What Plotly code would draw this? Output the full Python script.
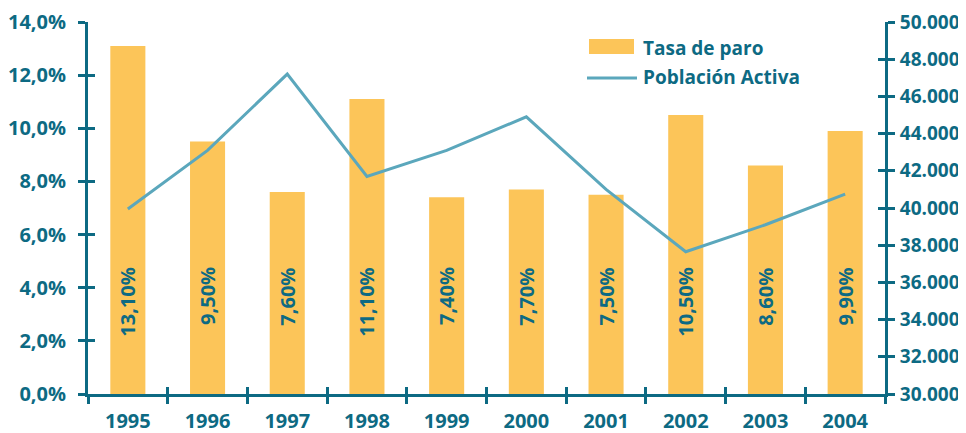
import plotly.graph_objects as go

years = ["1995", "1996", "1997", "1998", "1999", "2000", "2001", "2002", "2003", "2004"]
tasa_paro = [13.1, 9.5, 7.6, 11.1, 7.4, 7.7, 7.5, 10.5, 8.6, 9.9]
poblacion_activa = [39950, 43100, 47200, 41700, 43100, 44900, 41000, 37650, 39100, 40750]
series_names = ["Tasa de paro", "Población Activa"]

TEXT = "#0D6A83"
BAR = "#FCC559"
LINE = "#5BA7BC"
FONT = "Open Sans"

# page has an 8px default body margin: compensate so the figure lands on the window
OFF = 8
W, H = 966 - OFF, 433 - OFF
L, R, T, B = 88 - OFF, 81, 22 - OFF, 39
PW, PH = W - L - R, H - T - B


def px(x):
    return (x - OFF - L) / PW


def py(y):
    return (H - B - (y - OFF)) / PH


fig = go.Figure()
fig.add_trace(go.Bar(x=years, y=tasa_paro, name=series_names[0], marker_color=BAR,
                     marker_line_width=0, xaxis="x", yaxis="y", showlegend=False))
fig.add_trace(go.Scatter(x=years, y=poblacion_activa, name=series_names[1], mode="lines",
                         line=dict(color=LINE, width=3), xaxis="x", yaxis="y2", showlegend=False))
# helper traces so the overlay axes (inner half of the crossing ticks) exist
fig.add_trace(go.Scatter(x=years, y=[None] * len(years), mode="lines", showlegend=False,
                         hoverinfo="skip", xaxis="x2", yaxis="y3"))
fig.add_trace(go.Scatter(x=years, y=[None] * len(years), mode="lines", showlegend=False,
                         hoverinfo="skip", xaxis="x2", yaxis="y4"))

lblfont = dict(family=FONT, size=20, color=TEXT, weight="bold")
for i, v in enumerate(tasa_paro):
    fig.add_annotation(x=i, y=4.84, xref="x", yref="y", text=f"{v:.2f}".replace(".", ",") + "%",
                       textangle=-90, yanchor="top", xanchor="center", showarrow=False,
                       font=lblfont)

# legend (drawn manually to get the wide swatches)
fig.add_shape(type="rect", xref="paper", yref="paper", x0=px(589), x1=px(634), y0=py(54), y1=py(39),
              fillcolor=BAR, line_width=0)
fig.add_shape(type="line", xref="paper", yref="paper", x0=px(587), x1=px(637), y0=py(78), y1=py(78),
              line=dict(color=LINE, width=3))
legfont = dict(family=FONT, size=19, color=TEXT, weight="bold")
fig.add_annotation(x=px(641), y=py(48), xref="paper", yref="paper", text=series_names[0],
                   xanchor="left", yanchor="middle", showarrow=False, font=legfont)
fig.add_annotation(x=px(641), y=py(77), xref="paper", yref="paper", text=series_names[1],
                   xanchor="left", yanchor="middle", showarrow=False, font=legfont)

tickfont = dict(family=FONT, size=20, color=TEXT, weight="bold")
axis_common = dict(showgrid=False, zeroline=False, linecolor=TEXT, linewidth=3,
                   tickcolor=TEXT, tickwidth=3, ticklen=7, automargin=False)
inner_common = dict(showline=False, showticklabels=False, showgrid=False, zeroline=False,
                    tickcolor=TEXT, tickwidth=3, ticklen=7, ticks="inside", automargin=False)

fig.update_layout(
    width=W, height=H,
    margin=dict(l=L, r=R, t=T, b=B),
    paper_bgcolor="white", plot_bgcolor="white",
    separators=",.",
    bargap=0.56,
    showlegend=False,
    xaxis=dict(type="category", categoryarray=years, range=[-0.5, 9.5], tickson="boundaries",
               ticks="outside", showline=True, tickfont=tickfont, ticklabelstandoff=7, **axis_common),
    xaxis2=dict(type="category", categoryarray=years, range=[-0.5, 9.5], tickson="boundaries",
                overlaying="x", anchor="y", side="bottom", **inner_common),
    yaxis=dict(range=[0, 14], dtick=2, tickformat=".1f", ticksuffix="%", ticks="outside",
               showline=True, tickfont=tickfont, ticklabelstandoff=8, **axis_common),
    yaxis2=dict(range=[30000, 50000], dtick=2000, tickformat=",d", overlaying="y", side="right",
                anchor="x", ticks="outside", showline=True,
                tickfont=dict(family=FONT, size=19, color=TEXT, weight="bold"),
                ticklabelstandoff=1, ticklabeloverflow="allow", **axis_common),
    yaxis3=dict(range=[0, 14], dtick=2, overlaying="y", side="left", anchor="x2", **inner_common),
    yaxis4=dict(range=[30000, 50000], dtick=2000, overlaying="y", side="right", anchor="x2",
                **inner_common),
)

fig.write_html("out.html")
